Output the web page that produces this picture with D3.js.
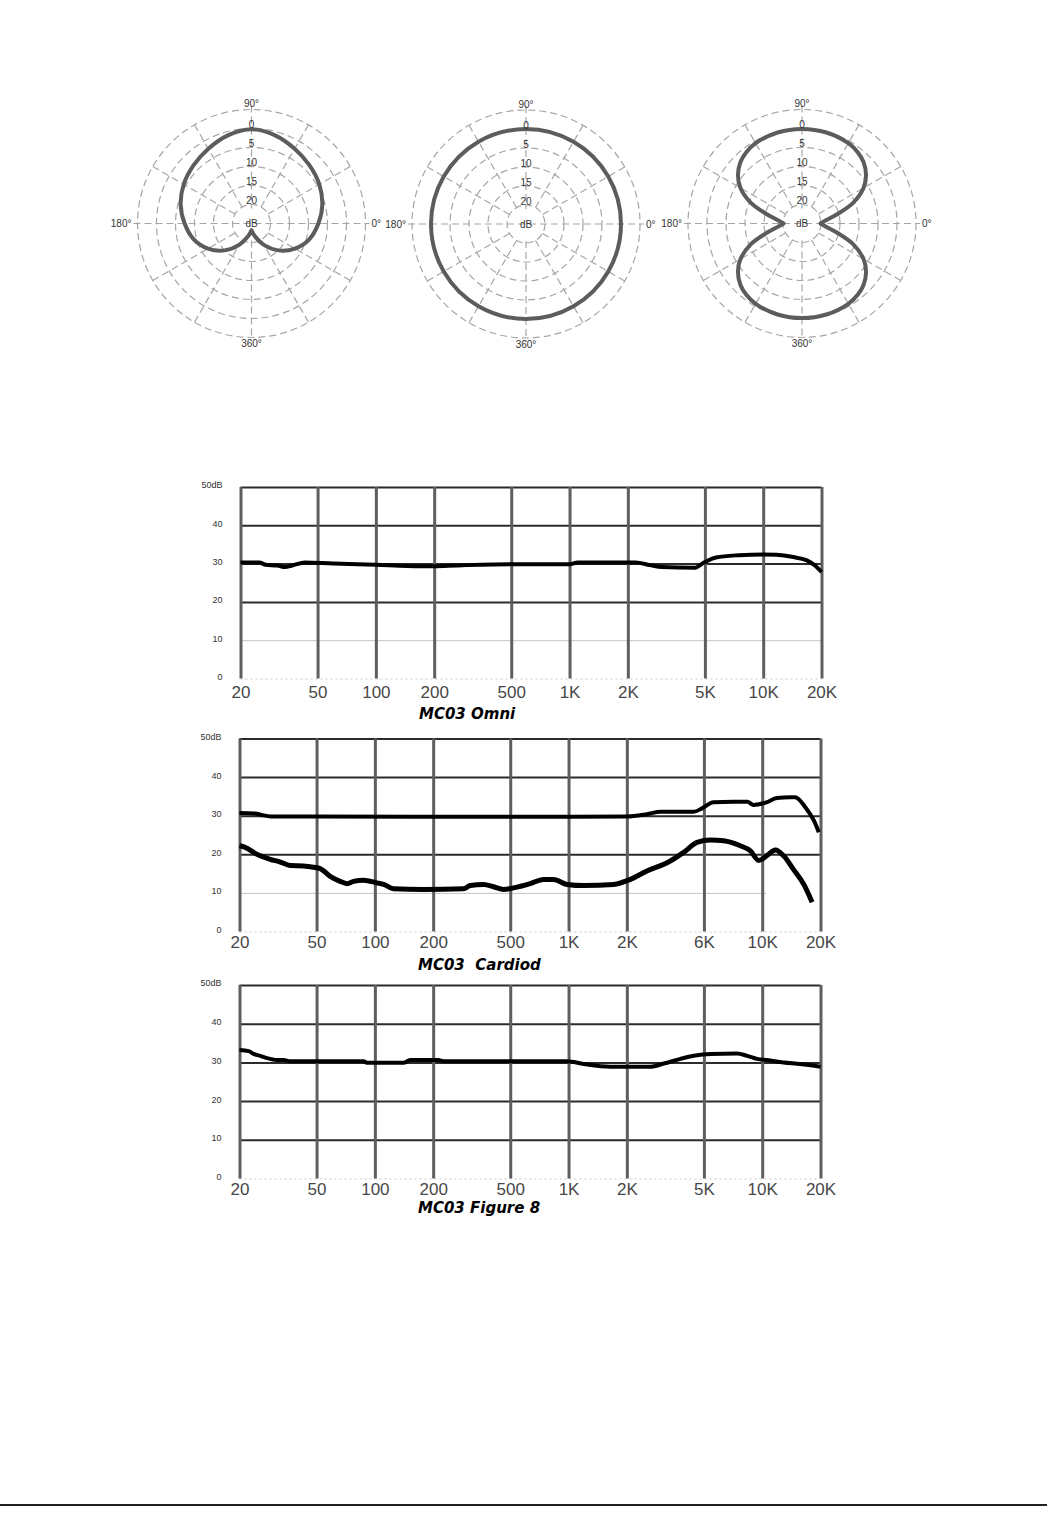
<!DOCTYPE html>
<html><head><meta charset="utf-8">
<script src="https://cdn.jsdelivr.net/npm/d3@7"></script>
<style>body{margin:0;background:#fff} svg{display:block}</style>
</head><body>
<svg id="c" width="1047" height="1540"></svg>
<script>
// ---------- polar pattern data (math angle in degrees, attenuation in dB) ----------
const polarRingsDb = [-5, 0, 5, 10, 15, 20];
const polarRingLabelDb = [0, 5, 10, 15, 20, 25];
const polarRingLabels = ["0", "5", "10", "15", "20", "dB"];
const polarSpokeAngles = [0, 30, 60, 90, 120, 150, 180, 210, 240, 270, 300, 330];

const cardioidAngles = [-90, -75, -60, -45, -30, -15, 0, 15, 30, 45, 60, 75, 90, 105, 120, 135, 150, 165, 180, 195, 210, 225, 240, 255, 270];
const cardioidAtten  = [23.2, 21.5, 18.5, 15.0, 11.8, 9.2, 7.4, 5.7, 4.4, 3.4, 2.3, 1.0, 0.2, 1.0, 2.3, 3.4, 4.4, 5.7, 7.4, 9.2, 11.8, 15.0, 18.5, 21.5, 23.2];

const omniAngles = [0, 30, 60, 90, 120, 150, 180, 210, 240, 270, 300, 330];
const omniAtten  = [0, 0, 0, 0, 0, 0, 0, 0, 0, 0, 0, 0];

const fig8UpperAngles = [0, 8, 15, 22, 30, 37, 45, 52, 60, 75, 90, 105, 120, 128, 135, 143, 150, 158, 165, 172, 180];
const fig8UpperAtten  = [20.1, 18.5, 15.3, 10.5, 6.3, 3.9, 2.1, 1.2, 0.6, 0.2, 0.1, 0.2, 0.6, 1.2, 2.1, 3.9, 6.3, 10.5, 15.3, 18.5, 20.1];
const fig8LowerAngles = [180, 188, 195, 202, 210, 217, 225, 232, 240, 255, 270, 285, 300, 308, 315, 323, 330, 338, 345, 352, 360];
const fig8LowerAtten  = [20.1, 18.5, 15.3, 10.5, 6.3, 3.9, 2.1, 1.2, 0.6, 0.2, 0.1, 0.2, 0.6, 1.2, 2.1, 3.9, 6.3, 10.5, 15.3, 18.5, 20.1];

// ---------- frequency response data ----------
const freqTicks = [20, 50, 100, 200, 500, 1000, 2000, 5000, 10000, 20000];
const freqLabelsOmni = ["20", "50", "100", "200", "500", "1K", "2K", "5K", "10K", "20K"];
const freqLabelsCard = ["20", "50", "100", "200", "500", "1K", "2K", "6K", "10K", "20K"];
const freqLabelsFig8 = ["20", "50", "100", "200", "500", "1K", "2K", "5K", "10K", "20K"];
const dbTicks = [0, 10, 20, 30, 40, 50];
const dbTickLabels = ["0", "10", "20", "30", "40", "50dB"];

const omniFreq = [20, 25, 27, 31, 34, 37, 43, 60, 100, 145, 200, 260, 500, 1000, 1100, 2200, 2600, 3000, 4400, 5000, 5700, 7500, 10000, 11700, 14300, 16700, 18500, 20000];
const omniDb   = [30.3, 30.3, 29.7, 29.5, 29.1, 29.5, 30.3, 30.0, 29.7, 29.4, 29.3, 29.5, 29.8, 29.8, 30.3, 30.3, 29.6, 29.1, 28.9, 30.4, 31.6, 32.2, 32.4, 32.3, 31.7, 30.9, 29.5, 27.8];

const cardOnFreq = [20, 24, 26, 29, 50, 500, 2000, 2540, 2980, 4430, 4890, 5600, 7100, 8400, 9000, 10600, 11900, 14000, 14800, 16700, 18500, 19600];
const cardOnDb   = [30.7, 30.6, 30.2, 29.8, 29.8, 29.7, 29.8, 30.4, 31.0, 31.0, 31.9, 33.5, 33.6, 33.6, 32.8, 33.5, 34.6, 34.8, 34.8, 32.2, 28.7, 25.7];

const cardOffFreq = [20, 21.4, 24.6, 28.8, 32.5, 36.5, 42.8, 50.2, 52.2, 58.8, 66.2, 71.8, 77.6, 87.4, 102.5, 110.9, 124.9, 178, 287, 311, 364, 410, 462, 520, 634, 743, 837, 982, 1197, 1710, 2085, 2540, 3226, 3930, 4610, 5400, 6324, 7710, 8690, 9590, 10600, 11700, 12900, 14500, 16400, 18100];
const cardOffDb   = [22.2, 21.8, 20.0, 18.7, 18.0, 17.1, 17.0, 16.5, 16.3, 14.3, 13.0, 12.4, 13.0, 13.3, 12.6, 12.2, 11.1, 10.9, 11.1, 11.9, 12.2, 11.6, 10.9, 11.3, 12.4, 13.5, 13.5, 12.2, 11.9, 12.2, 13.5, 15.7, 17.8, 20.5, 23.1, 23.7, 23.5, 22.2, 20.9, 18.4, 19.7, 21.1, 19.6, 16.1, 12.2, 7.6];

const fig8Freq = [20, 22.3, 23.6, 25.6, 27.7, 31.2, 33.8, 36.5, 87.4, 91, 140.6, 152, 213, 226, 982, 1197, 1643, 2645, 3100, 3780, 4430, 5400, 7420, 8350, 9410, 10600, 12900, 15700, 20000];
const fig8Db   = [33.2, 32.9, 32.2, 31.7, 31.1, 30.6, 30.6, 30.3, 30.3, 29.9, 29.9, 30.6, 30.6, 30.3, 30.3, 29.6, 28.9, 28.9, 29.7, 30.9, 31.7, 32.2, 32.3, 31.7, 30.9, 30.6, 30.0, 29.6, 28.9];

const chartTitles = ["MC03 Omni", "MC03\u00a0\u00a0Cardiod", "MC03 Figure 8"];

// ---------- drawing ----------
const svg = d3.select("#c");
const zip = (a, b) => a.map((v, i) => [v, b[i]]);
const rad = d => (90 - d) * Math.PI / 180;

const rScale = d3.scaleLinear().domain([0, 25]).range([95, 0]);

function polar(cx, cy, curves) {
  const g = svg.append("g").attr("transform", `translate(${cx},${cy})`);
  const grid = g.append("g").attr("fill", "none").attr("stroke", "#a6a6a6")
    .attr("stroke-width", 1.2).attr("stroke-dasharray", "7,4");
  grid.selectAll("circle").data(polarRingsDb).join("circle").attr("r", d => rScale(d));
  const spokes = polarSpokeAngles.filter(a => a % 90 !== 0);
  grid.selectAll("line.sp").data(spokes).join("line").attr("class", "sp")
    .attr("x1", d => rScale(20) * Math.cos(d * Math.PI / 180))
    .attr("y1", d => -rScale(20) * Math.sin(d * Math.PI / 180))
    .attr("x2", d => rScale(-5) * Math.cos(d * Math.PI / 180))
    .attr("y2", d => -rScale(-5) * Math.sin(d * Math.PI / 180));
  const ext = rScale(-5) + 4;
  grid.append("line").attr("x1", -ext).attr("x2", ext).attr("y1", 0).attr("y2", 0);
  grid.append("line").attr("x1", 0).attr("x2", 0).attr("y1", -ext).attr("y2", -rScale(20) + 4);
  grid.append("line").attr("x1", 0).attr("x2", 0).attr("y1", rScale(20) - 2).attr("y2", ext);

  const line = d3.lineRadial().angle(d => rad(d[0])).radius(d => rScale(d[1]));
  curves.forEach(c => {
    g.append("path").attr("d", line.curve(c.curve)(c.pts))
      .attr("fill", "none").attr("stroke", "#5c5c5c").attr("stroke-width", 4)
      .attr("stroke-linecap", "round").attr("stroke-linejoin", "round");
  });

  const tf = "Liberation Sans, Arial, sans-serif";
  g.selectAll("text.rl").data(polarRingLabelDb).join("text").attr("class", "rl")
    .attr("x", 0).attr("y", (d, i) => i === 5 ? 0 : -(rScale(d) + 4))
    .attr("dy", "0.35em").attr("text-anchor", "middle")
    .attr("font-family", tf).attr("font-size", 10).attr("fill", "#333")
    .text((d, i) => polarRingLabels[i]);
  const lab = [
    {t: "90°", x: 0, y: -rScale(-5) - 6, a: "middle"},
    {t: "360°", x: 0, y: rScale(-5) + 6, a: "middle"},
    {t: "180°", x: -ext - 2, y: 0, a: "end"},
    {t: "0°", x: ext + 2, y: 0, a: "start"}
  ];
  g.selectAll("text.al").data(lab).join("text").attr("class", "al")
    .attr("x", d => d.x).attr("y", d => d.y).attr("dy", "0.35em")
    .attr("text-anchor", d => d.a).attr("font-family", tf).attr("font-size", 10)
    .attr("fill", "#333").text(d => d.t);
}

polar(251.5, 223.5, [{pts: zip(cardioidAngles, cardioidAtten), curve: d3.curveCatmullRom}]);
polar(526, 224, [{pts: zip(omniAngles, omniAtten), curve: d3.curveCatmullRomClosed}]);
polar(802, 223.5, [
  {pts: zip(fig8UpperAngles, fig8UpperAtten), curve: d3.curveCatmullRom},
  {pts: zip(fig8LowerAngles, fig8LowerAtten), curve: d3.curveCatmullRom}
]);

// frequency response charts
function freqChart(opt) {
  const {left, right, top, bottom} = opt;
  const x = d3.scaleLog().domain([20, 20000]).range([left, right]);
  const y = d3.scaleLinear().domain([0, 50]).range([bottom, top]);
  const g = svg.append("g");

  const hg = g.append("g").attr("transform", `translate(${left},0)`)
    .call(d3.axisLeft(y).tickValues(dbTicks).tickSize(-(right - left)).tickFormat(""));
  hg.select(".domain").remove();
  hg.selectAll(".tick line").attr("stroke", d => {
      if (d === 0) return "#c8c8c8";
      if (d === 10 && opt.light10) return "#c4c4c4";
      return "#2b2b2b";
    })
    .attr("stroke-width", d => (d === 0 || (d === 10 && opt.light10)) ? 1 : 2)
    .attr("stroke-dasharray", d => d === 0 ? "2,3" : null)
    .attr("x2", d => (d === 10 && opt.light10End) ? x(opt.light10End) - left : (right - left));

  const vg = g.append("g").attr("transform", `translate(0,${bottom})`)
    .call(d3.axisBottom(x).tickValues(freqTicks).tickSize(-(bottom - top)).tickFormat(""));
  vg.select(".domain").remove();
  vg.selectAll(".tick line").attr("stroke", "#5e5e5e").attr("stroke-width", 3);

  const xa = g.append("g").attr("transform", `translate(0,${bottom})`)
    .call(d3.axisBottom(x).tickValues(freqTicks).tickSize(0).tickPadding(opt.xPad)
      .tickFormat((d, i) => opt.labels[i]));
  xa.select(".domain").remove();
  xa.selectAll("text").attr("font-family", "Liberation Sans, Arial, sans-serif")
    .attr("font-size", 17).attr("fill", "#484848");

  const ya = g.append("g").attr("transform", `translate(${left},0)`)
    .call(d3.axisLeft(y).tickValues(dbTicks).tickSize(0).tickPadding(18)
      .tickFormat((d, i) => dbTickLabels[i]));
  ya.select(".domain").remove();
  ya.selectAll("text").attr("font-family", "Liberation Sans, Arial, sans-serif")
    .attr("font-size", 9).attr("fill", "#333").attr("dy", "0.1em");

  const line = d3.line().x(d => x(d[0])).y(d => y(d[1])).curve(d3.curveMonotoneX);
  opt.series.forEach(s => {
    g.append("path").attr("d", line(zip(s.f, s.v))).attr("fill", "none")
      .attr("stroke", "#000").attr("stroke-width", s.w)
      .attr("stroke-linejoin", "round").attr("stroke-linecap", "butt");
  });

  g.append("text").attr("x", opt.titleX).attr("y", opt.titleY).attr("dy", "0.35em")
    .attr("font-family", "DejaVu Sans, sans-serif").attr("font-weight", "bold")
    .attr("font-style", "italic").attr("font-size", 15).attr("fill", "#000")
    .text(opt.title);
}

freqChart({left: 240.5, right: 821.5, top: 487, bottom: 678.5, xPad: 7, labels: freqLabelsOmni,
  light10: true, title: chartTitles[0], titleX: 419, titleY: 714,
  series: [{f: omniFreq, v: omniDb, w: 4}]});
freqChart({left: 239.5, right: 820.5, top: 738.5, bottom: 931.5, xPad: 4, labels: freqLabelsCard,
  light10: true, light10End: 10500, title: chartTitles[1], titleX: 418, titleY: 965,
  series: [{f: cardOnFreq, v: cardOnDb, w: 4}, {f: cardOffFreq, v: cardOffDb, w: 5}]});
freqChart({left: 239.5, right: 820.5, top: 985, bottom: 1178.5, xPad: 4, labels: freqLabelsFig8,
  light10: false, title: chartTitles[2], titleX: 418, titleY: 1208,
  series: [{f: fig8Freq, v: fig8Db, w: 4}]});

svg.append("line").attr("x1", 0).attr("x2", 1047).attr("y1", 1505).attr("y2", 1505)
  .attr("stroke", "#231f20").attr("stroke-width", 2);
</script>
</body></html>
